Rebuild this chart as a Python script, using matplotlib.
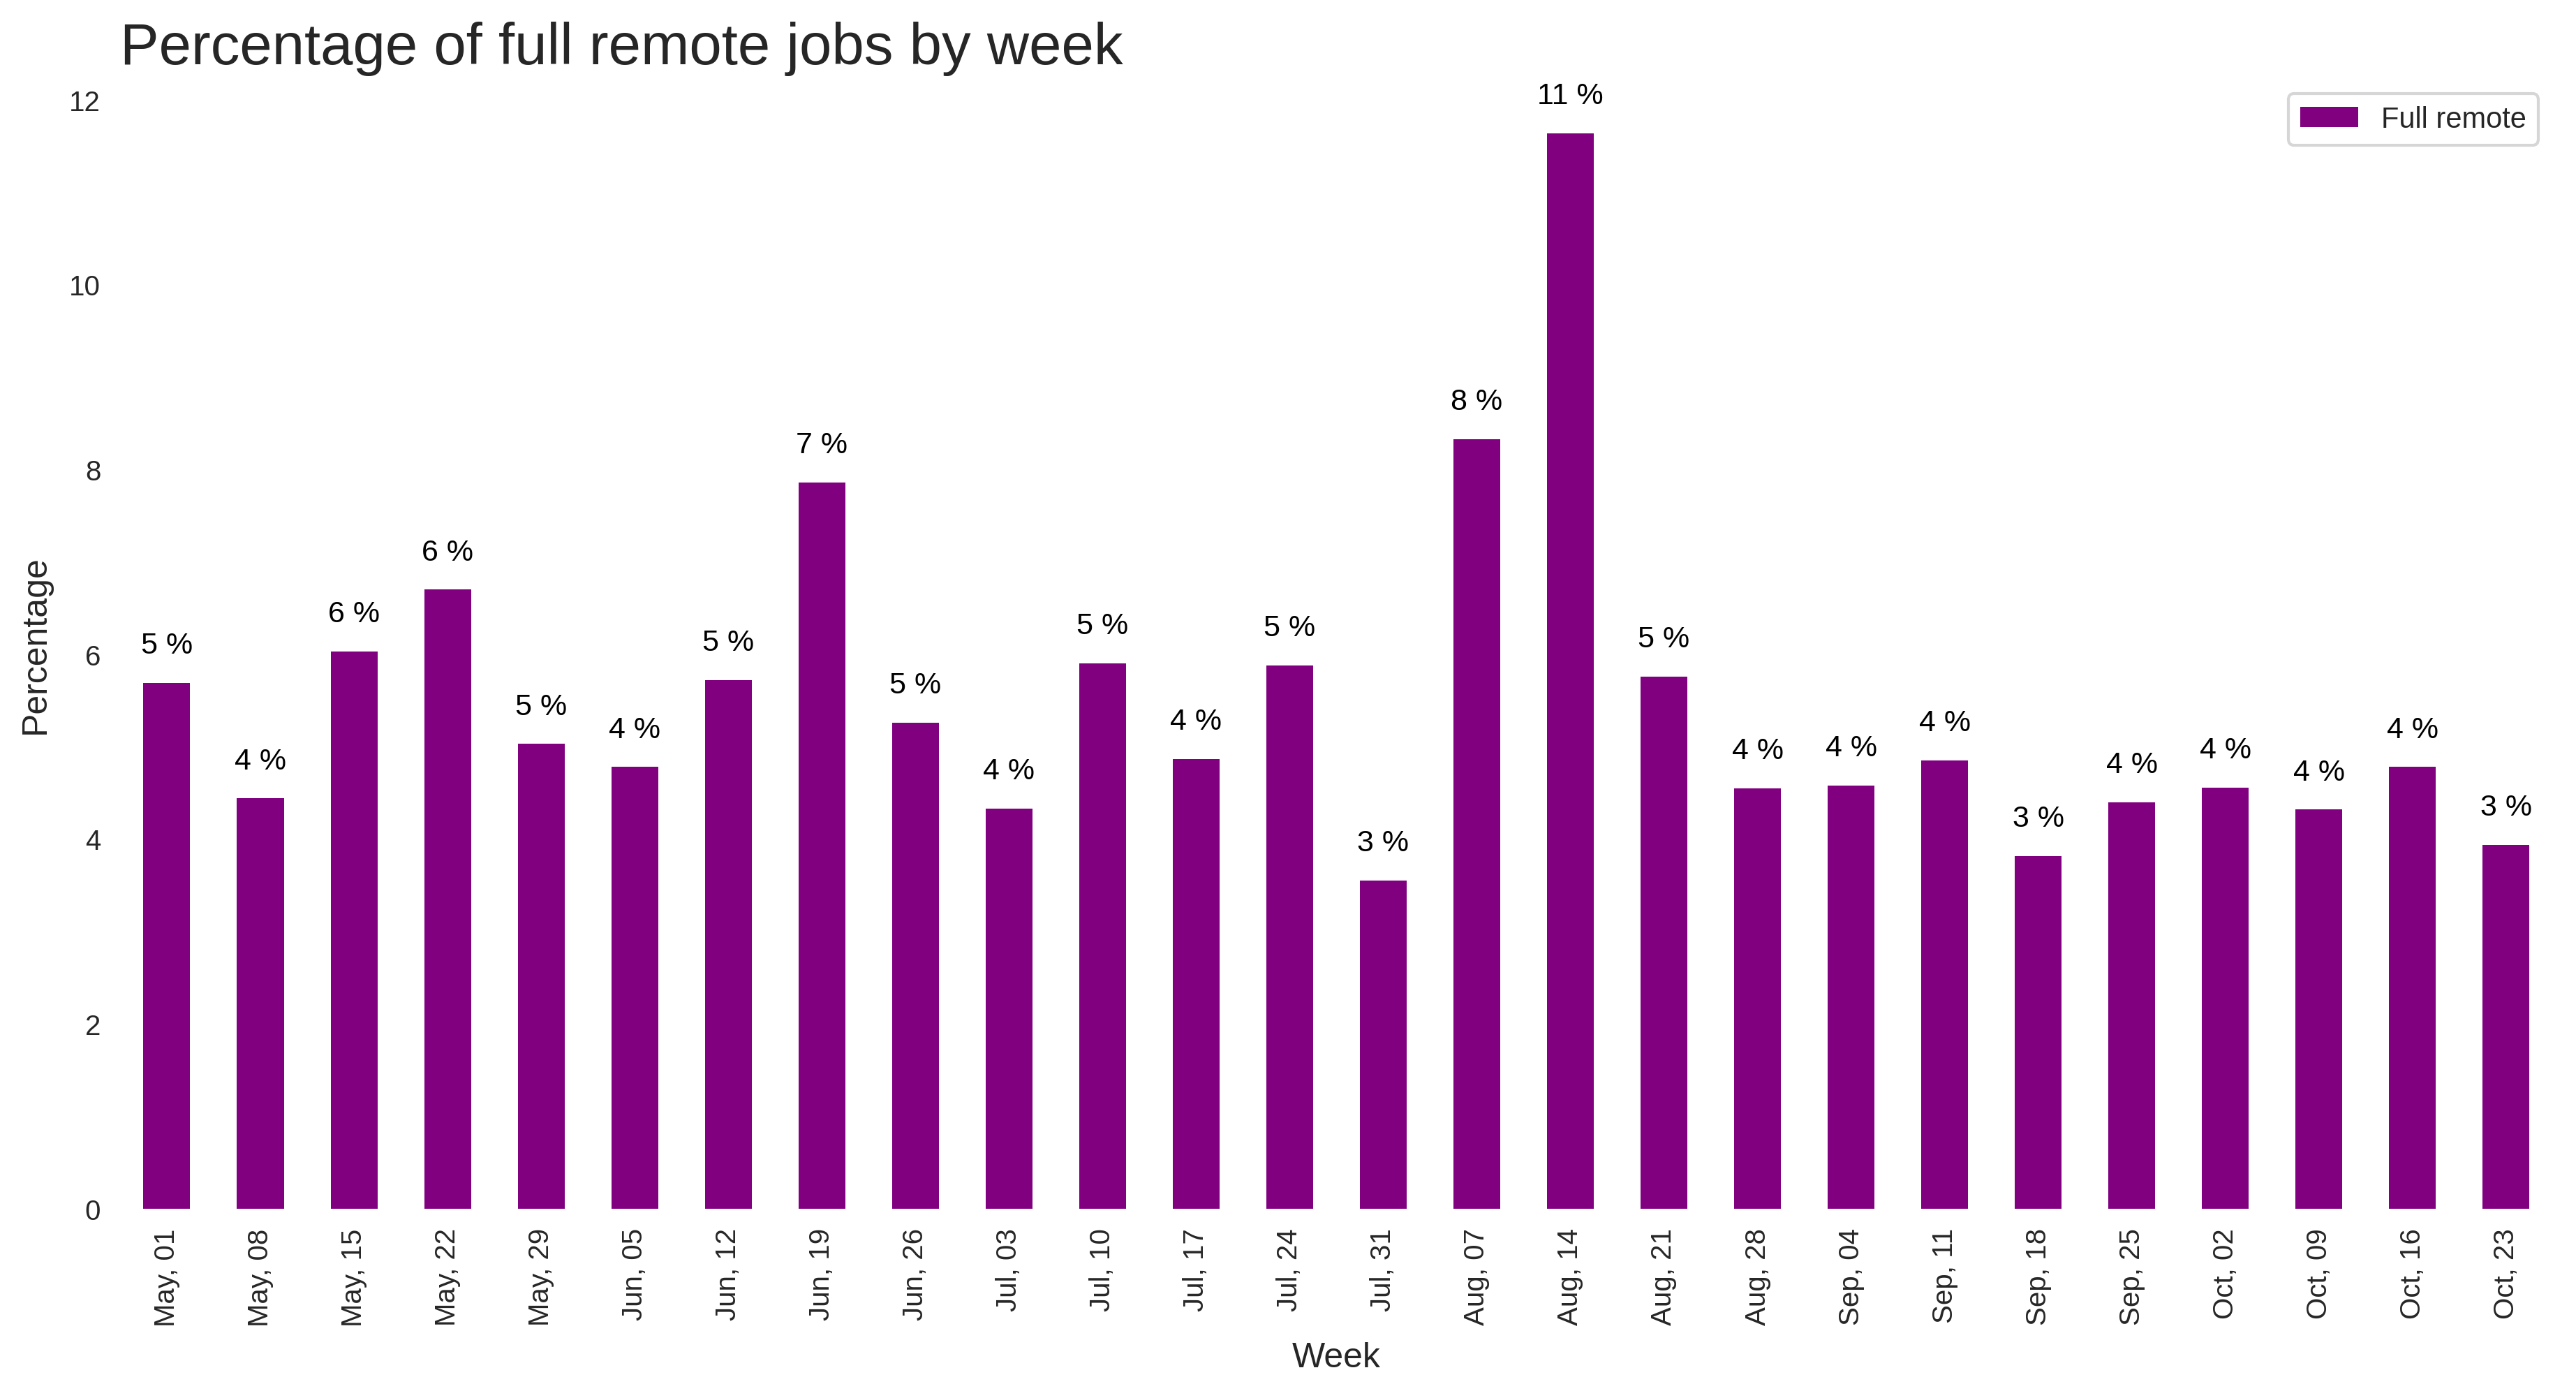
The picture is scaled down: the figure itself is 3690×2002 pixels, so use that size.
import numpy as np
import matplotlib
matplotlib.use("Agg")
import matplotlib.pyplot as plt

# Weekly share of full remote jobs (percent)
weeks = ["May, 01", "May, 08", "May, 15", "May, 22", "May, 29", "Jun, 05",
         "Jun, 12", "Jun, 19", "Jun, 26", "Jul, 03", "Jul, 10", "Jul, 17",
         "Jul, 24", "Jul, 31", "Aug, 07", "Aug, 14", "Aug, 21", "Aug, 28",
         "Sep, 04", "Sep, 11", "Sep, 18", "Sep, 25", "Oct, 02", "Oct, 09",
         "Oct, 16", "Oct, 23"]
full_remote = [5.69, 4.44, 6.03, 6.70, 5.03, 4.78, 5.72, 7.86, 5.26, 4.33,
               5.90, 4.87, 5.88, 3.55, 8.33, 11.64, 5.76, 4.55, 4.58, 4.85,
               3.82, 4.40, 4.56, 4.32, 4.78, 3.94]

plt.rcParams['font.family'] = ['Liberation Sans', 'DejaVu Sans']
plt.rcParams['text.color'] = '#262626'

fig = plt.figure(figsize=(18.45, 10.0125), dpi=200)
ax = fig.add_axes([0.0466, 0.1353, 0.9444, 0.8077])

x = np.arange(len(weeks))
bars = ax.bar(x, full_remote, width=0.5, color='purple', label='Full remote')
ax.set_xlim(-0.5, len(weeks) - 0.5)
ax.set_ylim(0, max(full_remote) * 1.05)

# value labels above bars
for xi, v in zip(x, full_remote):
    ax.annotate(f"{int(v)} %", (xi, v), xytext=(0, 12), textcoords='offset points',
                ha='center', va='bottom', fontsize=15.5, color='black')

ax.set_xticks(x)
ax.set_xticklabels(weeks, rotation=90)
ax.tick_params(axis='both', length=0, labelsize=14.5, colors='#262626', pad=10)
ax.set_yticks([0, 2, 4, 6, 8, 10, 12])

for s in ax.spines.values():
    s.set_visible(False)

ax.set_xlabel("Week", fontsize=18, color='#262626', labelpad=8)
ax.set_ylabel("Percentage", fontsize=18, color='#262626', labelpad=9)
ax.set_title("Percentage of full remote jobs by week", fontsize=30, loc='left',
             color='#262626', pad=8)

leg = ax.legend(loc='upper right', fontsize=15, frameon=True, fancybox=True,
                edgecolor='#cccccc')
leg.get_frame().set_linewidth(1.5)

fig.savefig('out.png', dpi=200)
